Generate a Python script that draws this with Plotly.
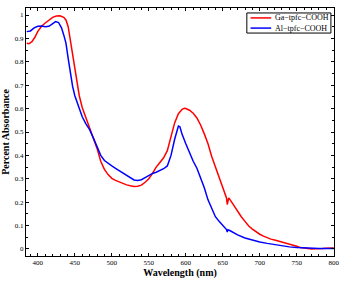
import plotly.graph_objects as go

ga_wl = [385, 388, 392, 396, 400, 405, 410, 415, 420, 425, 430, 435, 438, 441, 444, 447, 450,
         453, 456, 460, 465, 470, 475, 480, 485, 490, 495, 500, 505, 510, 515, 520, 525, 530,
         535, 540, 545, 550, 555, 560, 565, 570, 575, 580, 585, 590, 595, 598, 600, 605, 610,
         615, 620, 625, 630, 635, 640, 645, 650, 654, 655, 656, 657, 658, 660, 665, 670, 675,
         680, 685, 690, 695, 700, 705, 710, 715, 720, 725, 730, 735, 740, 745, 750, 755, 760,
         765, 770, 775, 780, 785, 790, 795, 800]
ga_abs = [0.879, 0.877, 0.886, 0.905, 0.930, 0.952, 0.966, 0.980, 0.990, 0.996, 0.997, 0.990,
          0.979, 0.950, 0.890, 0.815, 0.755, 0.700, 0.655, 0.605, 0.560, 0.520, 0.475, 0.430,
          0.375, 0.340, 0.318, 0.302, 0.293, 0.286, 0.280, 0.274, 0.270, 0.267, 0.268, 0.273,
          0.285, 0.300, 0.323, 0.350, 0.370, 0.390, 0.420, 0.480, 0.540, 0.578, 0.597, 0.601,
          0.600, 0.593, 0.580, 0.560, 0.530, 0.492, 0.450, 0.395, 0.352, 0.302, 0.262, 0.228,
          0.218, 0.190, 0.200, 0.218, 0.210, 0.185, 0.160, 0.138, 0.118, 0.098, 0.085, 0.073,
          0.063, 0.055, 0.048, 0.042, 0.038, 0.034, 0.031, 0.027, 0.022, 0.018, 0.012, 0.006,
          0.003, 0.002, 0.000, 0.001, 0.003, 0.002, 0.003, 0.003, 0.004]

al_wl = [385, 390, 395, 400, 405, 410, 415, 420, 424, 428, 432, 435, 438, 441, 444, 447, 450,
         455, 460, 465, 470, 475, 480, 485, 490, 495, 500, 505, 510, 515, 520, 525, 530, 535,
         540, 545, 550, 555, 560, 565, 570, 575, 580, 585, 588, 590, 592, 595, 600, 605, 610,
         615, 620, 625, 630, 635, 640, 645, 650, 655, 656, 657, 660, 665, 670, 680, 690, 700,
         710, 720, 730, 740, 750, 760, 770, 780, 790, 800]
al_abs = [0.929, 0.932, 0.945, 0.952, 0.953, 0.950, 0.952, 0.965, 0.972, 0.968, 0.945, 0.915,
          0.880, 0.815, 0.750, 0.695, 0.655, 0.605, 0.565, 0.535, 0.510, 0.475, 0.440, 0.400,
          0.378, 0.365, 0.355, 0.345, 0.335, 0.325, 0.315, 0.303, 0.295, 0.293, 0.296, 0.305,
          0.315, 0.323, 0.328, 0.335, 0.343, 0.355, 0.400, 0.470, 0.505, 0.525, 0.522, 0.490,
          0.450, 0.410, 0.375, 0.345, 0.305, 0.262, 0.210, 0.170, 0.138, 0.118, 0.102, 0.083,
          0.073, 0.082, 0.078, 0.068, 0.060, 0.047, 0.037, 0.030, 0.024, 0.018, 0.013, 0.009,
          0.006, 0.004, 0.003, 0.002, 0.002, 0.002]

x_ticks = [400, 450, 500, 550, 600, 650, 700, 750, 800]
y_ticks = [0, 0.1, 0.2, 0.3, 0.4, 0.5, 0.6, 0.7, 0.8, 0.9, 1]
y_labels = ["0", "0.1", "0.2", "0.3", "0.4", "0.5", "0.6", "0.7", "0.8", "0.9", "1"]

series_names = ["Ga\u2212tpfc\u2212COOH", "Al\u2212tpfc\u2212COOH"]
series_colors = ["#ff0000", "#0000ff"]

serif = "Liberation Serif, Times New Roman, serif"

fig = go.Figure()
fig.add_trace(go.Scatter(x=ga_wl, y=ga_abs, mode="lines", name=series_names[0],
                         line=dict(color=series_colors[0], width=1.5), showlegend=False))
fig.add_trace(go.Scatter(x=al_wl, y=al_abs, mode="lines", name=series_names[1],
                         line=dict(color=series_colors[1], width=1.5), showlegend=False))

axis_common = dict(showline=True, linecolor="black", linewidth=1, mirror="ticks",
                   ticks="inside", ticklen=3, tickcolor="black", showgrid=False,
                   zeroline=False, tickfont=dict(family=serif, size=7, color="black"))

fig.update_xaxes(range=[384, 800.3], tickvals=x_ticks, ticklabeloverflow="allow",
                 minor=dict(dtick=10, ticks="inside", ticklen=2, tickcolor="black"),
                 title=dict(text="<b>Wavelength (nm)</b>", font=dict(family=serif, size=10, color="black"),
                            standoff=2),
                 **axis_common)
fig.update_yaxes(range=[-0.03, 1.03], tickvals=y_ticks, ticktext=y_labels,
                 minor=dict(dtick=0.05, ticks="inside", ticklen=2, tickcolor="black"),
                 title=dict(text="<b>Percent Absorbance</b>", font=dict(family=serif, size=10, color="black"),
                            standoff=4),
                 **axis_common)

# Compact legend box (MATLAB style) in the top-right corner
box_x0, box_x1, box_y0, box_y1 = 0.717, 0.990, 0.899, 0.980
row_y = [0.960, 0.919]
fig.add_shape(type="rect", xref="paper", yref="paper", x0=box_x0, x1=box_x1, y0=box_y0, y1=box_y1,
              line=dict(color="black", width=1), fillcolor="white", layer="above")
for name, color, ry in zip(series_names, series_colors, row_y):
    fig.add_shape(type="line", xref="paper", yref="paper", x0=0.729, x1=0.796, y0=ry, y1=ry,
                  line=dict(color=color, width=1.5), layer="above")
    fig.add_annotation(xref="paper", yref="paper", x=0.802, y=ry, text=name, showarrow=False,
                       xanchor="left", yanchor="middle",
                       font=dict(family=serif, size=8, color="black"))

fig.update_layout(
    width=344, height=283,
    margin=dict(l=26, r=4, t=8, b=27),
    paper_bgcolor="white", plot_bgcolor="white",
    showlegend=False,
)

fig.write_html("out.html")
